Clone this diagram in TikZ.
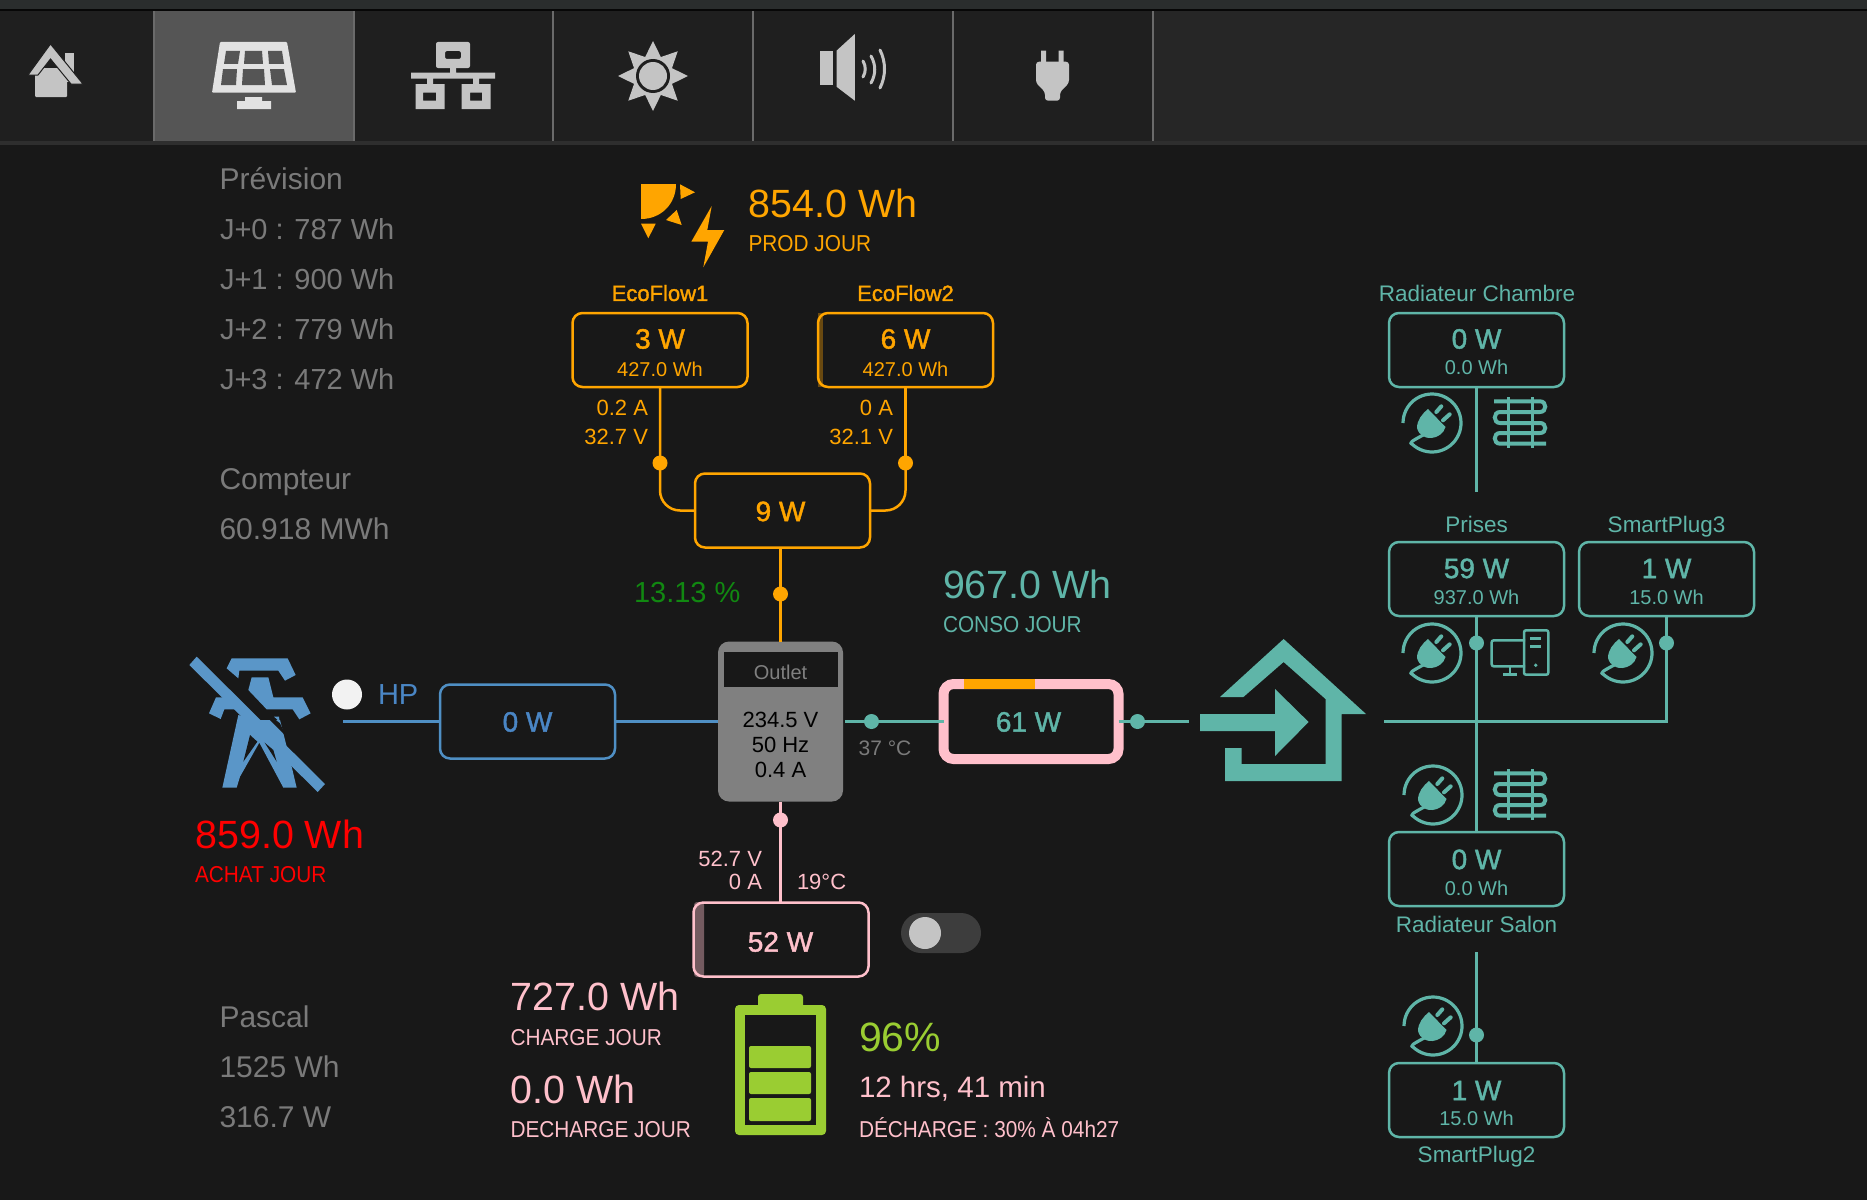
\documentclass[tikz,border=0pt]{standalone}
\usepackage{fontspec}
\setmainfont{Liberation Sans}
\newfontfamily\fcond[FakeStretch=0.905]{Liberation Sans}
\newfontfamily\fmed[FakeBold=1.5]{Liberation Sans}
\definecolor{bgc}{HTML}{181818}
\definecolor{navc}{HTML}{1F1F1F}
\definecolor{navr}{HTML}{262626}
\definecolor{navb}{HTML}{2E2E2E}
\definecolor{topb}{HTML}{2A2D2D}
\definecolor{icon}{HTML}{C4C4C4}
\definecolor{orng}{HTML}{FFA500}
\definecolor{tealc}{HTML}{5FB5A8}
\definecolor{pinkc}{HTML}{FFC0CB}
\definecolor{bluec}{HTML}{4F8FC4}
\definecolor{blueT}{HTML}{4A86C5}
\definecolor{pyl}{HTML}{5A96C8}
\definecolor{grayt}{HTML}{7A7A7A}
\definecolor{greent}{HTML}{118811}
\definecolor{batg}{HTML}{9ACD32}
\definecolor{tabc}{HTML}{555555}
\definecolor{panel}{HTML}{E2E2E2}
\definecolor{divc}{HTML}{6A6A6A}
\tikzset{
  txt/.style={inner sep=0pt,outer sep=0pt,text height={0.72*#1 pt},text depth=0pt,font=\fontsize{#1}{#1}\selectfont},
  ctxt/.style={inner sep=0pt,outer sep=0pt,text height={0.72*#1 pt},text depth=0pt,font=\fcond\fontsize{#1}{#1}\selectfont},
  mtxt/.style={inner sep=0pt,outer sep=0pt,text height={0.72*#1 pt},text depth=0pt,font=\fmed\fontsize{#1}{#1}\selectfont},
  boxn/.style={draw=#1,line width=2.5pt,rounded corners=10pt,minimum width=175pt,minimum height=74pt,inner sep=0pt,outer sep=0pt},
  dotn/.style={circle,fill=#1,minimum size=15pt,inner sep=0pt,outer sep=0pt},
  conn/.style={draw=#1,line width=2.5pt},
  plugpic/.pic={
    \draw[tealc,line width=3.2pt,line join=round] plot[domain=180:492,samples=50] ({29*cos(\x)},{29*sin(\x)}) .. controls (-24,20) and (-20,18) .. (-7,11);
    \fill[tealc] (-4,-14) -- (13.5,4) .. controls (10,17) and (-11,20) .. (-15,5) .. controls (-15,-3) and (-10,-9) .. (-4,-14) -- cycle;
    \draw[tealc,line width=4pt,line cap=round] (4.3,-11) -- (9.3,-16.7) (11,-2.7) -- (17.7,-8.7);
  },
  heatpic/.pic={
    \draw[tealc,line width=4pt] (-26,-21.7) -- (20,-21.7) .. controls (27,-21.7) and (27,-11) .. (20,-11) -- (-20,-11) .. controls (-27,-11) and (-27,0) .. (-20,0) -- (20,0) .. controls (27,0) and (27,10) .. (20,10) -- (-20,10) .. controls (-27,10) and (-27,20.7) .. (-20,20.7) -- (26,20.7);
    \draw[tealc,line width=2.5pt] (-11.7,-26) -- (-11.7,25) (12.3,-26) -- (12.3,25);
  },
  pcpic/.pic={
    \draw[tealc,line width=2.5pt,rounded corners=2pt] (5,-12.7) -- (-28.3,-12.7) -- (-28.3,13.3) -- (5,13.3);
    \draw[tealc,line width=2.5pt,rounded corners=2pt] (4,-22.7) rectangle (28.3,21.7);
    \draw[tealc,line width=2.5pt] (10,-14.3) -- (21,-14.3) (10,-6.7) -- (21,-6.7) (-10,13.3) -- (-10,21.7) (-16.7,21.7) -- (-3.3,21.7);
    \fill[tealc] (15.7,12.3) circle (1.9pt);
  }
}
\begin{document}
\begin{tikzpicture}[x=1pt,y=-1pt]
\useasboundingbox (0,0) rectangle (1867,1199);
\fill[bgc] (-3,-3) rectangle (1870,1202);
% top bars
\fill[topb] (-3,-3) rectangle (1870,9);
\fill[black!70!bgc] (-3,9) rectangle (1870,11);
\fill[navc] (-3,11) rectangle (1152,141);
\fill[navr] (1152,11) rectangle (1870,141);
\fill[navb] (-3,141) rectangle (1870,145);
\fill[tabc] (153,11) rectangle (354,141);
\foreach \xx in {153.5,353.5,553,753,953,1152.5}{\draw[divc,line width=2pt] (\xx,11) -- (\xx,141);}
% home icon
\fill[icon] (65,53) rectangle (73.5,82);
\fill[icon,rounded corners=1pt] (35,68) rectangle (67,97);
\fill[icon,draw=navc,line width=1pt] (50.5,44) -- (83,84) -- (71,84) -- (50.5,59) -- (38,75) -- (28,75) -- cycle;
% solar panel icon
\fill[panel,rounded corners=1pt] (220,42) -- (287,42) -- (296,92.7) -- (212,92.7) -- cycle;
\fill[tabc] (226,51) -- (240,51) -- (238,64) -- (224,64) -- cycle
 (245,51) -- (262,51) -- (263,64) -- (244,64) -- cycle
 (268,51) -- (282,51) -- (284,64) -- (269,64) -- cycle
 (223,69) -- (237,69) -- (236,85) -- (221,85) -- cycle
 (243,69) -- (264,69) -- (265,85) -- (242,85) -- cycle
 (270,69) -- (284,69) -- (287,85) -- (272,85) -- cycle;
\fill[panel] (245,97) rectangle (262,101) (237,101) rectangle (271,109);
% network icon
\fill[icon,rounded corners=2pt,even odd rule] (436,42) rectangle (470,68) (445,51) rectangle (461,59);
\fill[icon] (450,68) rectangle (456,73) (411,72.7) rectangle (495,78.7) (427,78.7) rectangle (433,84) (473,78.7) rectangle (479,84);
\fill[icon,even odd rule] (415.5,84) rectangle (444.6,109) (423,92.7) rectangle (436,100.7);
\fill[icon,even odd rule] (461.5,84) rectangle (490.5,109) (470,92.7) rectangle (482,100.7);
% brightness icon
\fill[icon] plot[samples at={0,22.5,...,337.5},variable=\a] ({653+(mod(\a,45)==0?35:20.5)*cos(\a)},{76+(mod(\a,45)==0?35:20.5)*sin(\a)}) -- cycle;
\fill[navc] (653,76) circle (17pt);
\fill[icon] (653,76) circle (14pt);
% speaker icon
\fill[icon] (819.6,50.7) rectangle (832.6,84.7);
\fill[icon] (836.5,50.7) -- (854.8,34) -- (854.8,100.7) -- (836.5,86.7) -- cycle;
\draw[icon,line width=3pt,line cap=round] (863,61) .. controls (866,66) and (866,72) .. (863,77);
\draw[icon,line width=3pt,line cap=round] (871,56) .. controls (876,65) and (876,74) .. (871,83);
\draw[icon,line width=3pt,line cap=round] (880,50) .. controls (886,62) and (886,76) .. (880,88);
% plug icon
\fill[icon] (1041,50.7) rectangle (1046,62) (1058.5,50.7) rectangle (1063.5,62);
\fill[icon,rounded corners=3pt] (1036,61.7) -- (1069,61.7) -- (1069,83) -- (1060,92) -- (1060,100.7) -- (1045,100.7) -- (1045,92) -- (1036,83) -- cycle;

% left texts
\node[txt=30,grayt,anchor=west] (prev) at (219.5,179) {Prévision};
\node[txt=29,grayt,anchor=west] (j0) at (220,229) {J+0 : 787 Wh};
\node[txt=29,grayt,anchor=west] (j1) at (220,279) {J+1 : 900 Wh};
\node[txt=29,grayt,anchor=west] (j2) at (220,329) {J+2 : 779 Wh};
\node[txt=29,grayt,anchor=west] (j3) at (220,379) {J+3 : 472 Wh};
\node[txt=30,grayt,anchor=west] (comp) at (219.5,479) {Compteur};
\node[txt=30,grayt,anchor=west] (compv) at (219.5,529) {60.918 MWh};
\node[txt=30,grayt,anchor=west] (pas) at (219.5,1017) {Pascal};
\node[txt=30,grayt,anchor=west] (pas1) at (219.5,1067) {1525 Wh};
\node[txt=30,grayt,anchor=west] (pas2) at (219.5,1117) {316.7 W};

% production icon
\fill[orng] (641,184) -- (676,184) .. controls (676,204) and (661,219) .. (641,219) -- cycle;
\fill[orng] (680,184.3) -- (695,192.3) -- (680.7,199) -- cycle;
\fill[orng] (676.7,210) -- (681.7,225) -- (666,220) -- cycle;
\fill[orng] (641,223.7) -- (655.7,223.7) -- (648.3,238.3) -- cycle;
\fill[orng] (711.7,206) -- (691.3,241.7) -- (708,241.7) -- (703.3,267.3) -- (724.3,230) -- (707.3,230) -- cycle;
\node[txt=39.4,orng,anchor=west] (prodv) at (748.5,203) {854.0 Wh};
\node[ctxt=23,orng,anchor=west] (prodl) at (748.5,243) {PROD JOUR};

% solar strings
\node[mtxt=22,orng] (ef1l) at (660,293) {EcoFlow1};
\node[mtxt=22,orng] (ef2l) at (905.5,293) {EcoFlow2};
\fill[orng!35!bgc] (817.5,313) rectangle (823,387);
\node[boxn=orng] (eco1) at (660,350) {};
\node[boxn=orng] (eco2) at (905.5,350) {};
\node[mtxt=28,orng] (eco1a) at (660,338.5) {3 W};
\node[txt=20,orng] (eco1b) at (660,369) {427.0 Wh};
\node[mtxt=28,orng] (eco2a) at (905.5,338.5) {6 W};
\node[txt=20,orng] (eco2b) at (905.5,369) {427.0 Wh};
\node[txt=22,orng,anchor=east] (e1a) at (648,408) {0.2 A};
\node[txt=22,orng,anchor=east] (e1v) at (648,437) {32.7 V};
\node[txt=22,orng,anchor=east] (e2a) at (893,408) {0 A};
\node[txt=22,orng,anchor=east] (e2v) at (893,437) {32.1 V};
\node[boxn=orng] (sum) at (782.5,510.5) {};
\node[mtxt=28,orng] (sumt) at (780.5,511) {9 W};
\node[dotn=orng] (d1) at (660,463) {};
\node[dotn=orng] (d2) at (905.5,463) {};
\node[dotn=orng] (d3) at (780.5,594) {};
\node[txt=29,greent,anchor=west] (pct) at (634,592) {13.13 \%};

% outlet
\node[draw=none,fill=gray,rounded corners=11pt,minimum width=125pt,minimum height=160pt,inner sep=0pt,outer sep=0pt] (outlet) at (780.5,721.5) {};
\fill[bgc] (724,652) rectangle (837.6,687);
\node[txt=20,gray] (ol) at (780.5,672) {Outlet};
\node[txt=22,black] (ov) at (780.5,719.5) {234.5 V};
\node[txt=22,black] (of) at (780.5,744.5) {50 Hz};
\node[txt=22,black] (oa) at (780.5,769.5) {0.4 A};

\draw[conn=orng] (eco1.south) -- (d1);
\draw[conn=orng] (eco2.south) -- (d2);
\draw[conn=orng,rounded corners=20pt] (eco1.south) |- (sum.west);
\draw[conn=orng,rounded corners=20pt] (eco2.south) |- (sum.east);
\draw[conn=orng] (outlet.north |- sum.south) -- (outlet.north);

% grid
\begin{scope}[shift={(170,620)},x=0.33333pt,y=-0.33333pt]
\fill[pyl] (185,115) -- (353,115) -- (377,165) -- (345,182) -- (325,152) -- (208,152) -- (205,175) -- (170,145) -- cycle;
\fill[pyl] (245,172) -- (295,172) -- (310,232) -- (398,232) -- (422,280) -- (388,298) -- (368,268) -- (290,268) -- (235,210) -- cycle;
\fill[pyl] (138,232) -- (180,232) -- (220,268) -- (163,268) -- (152,297) -- (117,280) -- cycle;
\fill[pyl] (205,285) -- (157,503) -- (200,503) -- (210,470) -- (268,368) -- (340,503) -- (380,503) -- (365,440) -- (330,300) -- (250,300) -- cycle;
\fill[bgc] (240,345) -- (220,425) -- (262,365) -- cycle;
\fill[bgc] (284,368) -- (320,425) -- (310,390) -- cycle;
\fill[bgc] (330,310) -- (400,460) -- (430,430) -- (250,250) -- (270,262) -- cycle;
\fill[pyl] (312,290) -- (327,290) -- (329,305) -- cycle;
\fill[pyl] (80,110) -- (465,492) -- (443,516) -- (58,135) -- cycle;
\end{scope}
\node[circle,fill=white!95!black,minimum size=30pt,inner sep=0pt] (hpd) at (347,694.5) {};
\node[txt=29,blueT,anchor=west] (hpl) at (378,694) {HP};
\node[boxn=bluec] (grid) at (527.5,721.5) {};
\node[mtxt=28,blueT] (gridt) at (527.5,721.5) {0 W};
\coordinate (gridl) at (343,721.5);
\draw[conn=bluec] (gridl) -- (grid.west);
\draw[conn=bluec] (grid.east) -- (outlet.west);
\node[txt=39.4,red,anchor=west] (achv) at (195.5,834.5) {859.0 Wh};
\node[ctxt=23,red,anchor=west] (achl) at (195,874) {ACHAT JOUR};

% consumption
\node[txt=39.4,tealc,anchor=west] (consv) at (943,584) {967.0 Wh};
\node[ctxt=23,tealc,anchor=west] (consl) at (943,624) {CONSO JOUR};
\node[draw=pinkc,line width=10pt,rounded corners=10pt,minimum width=175pt,minimum height=75pt,inner sep=0pt,outer sep=0pt] (inv) at (1031,721.5) {};
\fill[orng] (964,679) rectangle (1034.5,689);
\node[mtxt=28,tealc] (invt) at (1028.5,721.5) {61 W};
\coordinate (cl) at (845,721.5);
\coordinate (cr) at (1189,721.5);
\node[dotn=tealc] (d4) at (871.5,721.5) {};
\node[dotn=tealc] (d5) at (1137.5,721.5) {};
\draw[conn=tealc] (cl) -- (inv.west);
\draw[conn=tealc] (inv.east) -- (cr);
\node[txt=21,grayt] (temp) at (885,748) {37 °C};

% house
\fill[tealc] (1283.6,639) -- (1366,714) -- (1341.6,714) -- (1341.6,781) -- (1225,781) -- (1225,748) -- (1241.6,748) -- (1241.6,764) -- (1325.5,764) -- (1325.5,699) -- (1283.6,662) -- (1243.4,697) -- (1220,697) -- cycle;
\fill[tealc] (1200,714) -- (1275,714) -- (1275,689) -- (1308.6,722) -- (1275,756) -- (1275,731) -- (1200,731) -- cycle;

% loads
\node[txt=22.5,tealc] (rcl) at (1477,293) {Radiateur Chambre};
\node[boxn=tealc] (rc) at (1476.5,350) {};
\node[mtxt=28,tealc] (rca) at (1476.5,338.5) {0 W};
\node[txt=20,tealc] (rcb) at (1476.5,367) {0.0 Wh};
\pic at (1432,423) {plugpic};
\pic at (1520,423) {heatpic};
\coordinate (rce) at (1476.5,492);
\draw[conn=tealc] (rc.south) -- (rce);

\node[txt=22.5,tealc] (prl) at (1476.5,524) {Prises};
\node[boxn=tealc] (pr) at (1476.5,579) {};
\node[mtxt=28,tealc] (pra) at (1476.5,568) {59 W};
\node[txt=20,tealc] (prb) at (1476.5,597) {937.0 Wh};
\pic at (1432,653) {plugpic};
\pic at (1520,653) {pcpic};
\node[dotn=tealc] (d6) at (1476.5,643) {};

\node[txt=22.5,tealc] (s3l) at (1666.5,524) {SmartPlug3};
\node[boxn=tealc] (s3) at (1666.5,579) {};
\node[mtxt=28,tealc] (s3a) at (1666.5,568) {1 W};
\node[txt=20,tealc] (s3b) at (1666.5,597) {15.0 Wh};
\pic at (1623,653) {plugpic};
\node[dotn=tealc] (d7) at (1666.5,643) {};

\node[boxn=tealc] (rs) at (1476.5,869) {};
\node[mtxt=28,tealc] (rsa) at (1476.5,859) {0 W};
\node[txt=20,tealc] (rsb) at (1476.5,888) {0.0 Wh};
\node[txt=22.5,tealc] (rsl) at (1476.5,924) {Radiateur Salon};
\pic at (1433,795) {plugpic};
\pic at (1520,795) {heatpic};

\node[boxn=tealc] (s2) at (1476.5,1100) {};
\node[mtxt=28,tealc] (s2a) at (1476.5,1090) {1 W};
\node[txt=20,tealc] (s2b) at (1476.5,1118.5) {15.0 Wh};
\node[txt=22.5,tealc] (s2l) at (1476.5,1154) {SmartPlug2};
\pic at (1433,1026) {plugpic};
\node[dotn=tealc] (d8) at (1476.5,1035) {};
\coordinate (s2t) at (1476.5,952);
\draw[conn=tealc] (s2t) -- (s2.north);

\coordinate (trl) at (1384,721.5);
\draw[conn=tealc] (pr.south) -- (rs.north);
\draw[conn=tealc] (trl) -| (s3.south);

% battery
\fill[pinkc!40!bgc,rounded corners=3pt] (694,902) rectangle (704,977);
\node[boxn=pinkc] (bat) at (781,939.5) {};
\node[mtxt=28,pinkc] (batt) at (780.5,941.5) {52 W};
\node[dotn=pinkc] (d9) at (780.5,820) {};
\draw[conn=pinkc] (outlet.south) -- (outlet.south |- bat.north);
\node[txt=22,pinkc,anchor=east] (bv) at (762,858.5) {52.7 V};
\node[txt=22,pinkc,anchor=east] (ba) at (762,882) {0 A};
\node[txt=22,pinkc,anchor=west] (bt) at (797,882) {19°C};
\fill[white!16!bgc,rounded corners=20pt] (901,913) rectangle (981,953);
\fill[icon] (925,933) circle (16pt);
\node[txt=39.4,pinkc,anchor=west] (chv) at (510.5,996) {727.0 Wh};
\node[ctxt=23,pinkc,anchor=west] (chl) at (510.5,1037) {CHARGE JOUR};
\node[txt=39.4,pinkc,anchor=west] (dcv) at (510.5,1089) {0.0 Wh};
\node[ctxt=23,pinkc,anchor=west] (dcl) at (510.5,1129) {DECHARGE JOUR};
\fill[batg,rounded corners=3pt] (758,994) rectangle (803,1012);
\fill[batg,rounded corners=4pt] (735,1005) rectangle (826,1135);
\fill[bgc] (745,1015) rectangle (816,1125);
\fill[batg,rounded corners=2pt] (749,1046) rectangle (811,1068);
\fill[batg,rounded corners=2pt] (749,1072) rectangle (811,1094);
\fill[batg,rounded corners=2pt] (749,1098) rectangle (811,1121);
\node[txt=41,batg,anchor=west] (pc) at (859,1037) {96\%};
\node[txt=29.5,pinkc,anchor=west] (tm) at (859,1087) {12 hrs, 41 min};
\node[ctxt=23,pinkc,anchor=west] (dc) at (859,1129) {DÉCHARGE : 30\% À 04h27};
\end{tikzpicture}
\end{document}
